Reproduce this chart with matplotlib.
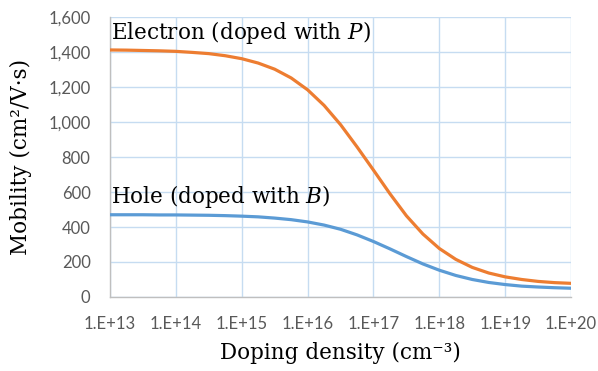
import numpy as np
import matplotlib.pyplot as plt
from matplotlib.ticker import FixedLocator, FixedFormatter

# doping density (log10 of cm^-3), quarter-decade steps
log_n = [13.0, 13.25, 13.5, 13.75, 14.0, 14.25, 14.5, 14.75, 15.0, 15.25,
         15.5, 15.75, 16.0, 16.25, 16.5, 16.75, 17.0, 17.25, 17.5, 17.75,
         18.0, 18.25, 18.5, 18.75, 19.0, 19.25, 19.5, 19.75, 20.0]

# mobility, cm^2/V.s
mu_electron = [1412, 1411, 1409, 1407, 1404, 1398, 1391, 1379, 1362, 1337,
               1302, 1252, 1184, 1095, 985, 858, 725, 590, 464, 360,
               277, 215, 169, 137, 115, 100, 89, 82, 78]
mu_hole = [470, 470, 470, 469, 469, 468, 467, 465, 462, 458,
           451, 442, 429, 411, 387, 355, 317, 275, 231, 189,
           153, 123, 100, 83, 71, 62, 57, 53, 50]

x_ticks = [1e13, 1e14, 1e15, 1e16, 1e17, 1e18, 1e19, 1e20]
x_ticklabels = ['1.E+13', '1.E+14', '1.E+15', '1.E+16', '1.E+17', '1.E+18', '1.E+19', '1.E+20']
y_ticks = [0, 200, 400, 600, 800, 1000, 1200, 1400, 1600]
y_ticklabels = ['0', '200', '400', '600', '800', '1,000', '1,200', '1,400', '1,600']

N = 10.0 ** np.array(log_n)

plt.rcParams['mathtext.fontset'] = 'dejavuserif'
fig = plt.figure(figsize=(5.98, 3.71), dpi=100)
ax = fig.add_axes([0.184, 0.1995, 0.771, 0.7545])

ax.plot(N, mu_electron, color='#ED7D31', lw=2.3, solid_capstyle='butt', zorder=3)
ax.plot(N, mu_hole, color='#5B9BD5', lw=2.3, solid_capstyle='butt', zorder=3)

ax.set_xscale('log')
ax.set_xlim(1e13, 1e20)
ax.set_ylim(0, 1600)
ax.xaxis.set_major_locator(FixedLocator(x_ticks))
ax.xaxis.set_major_formatter(FixedFormatter(x_ticklabels))
ax.xaxis.set_minor_locator(FixedLocator([]))
ax.yaxis.set_major_locator(FixedLocator(y_ticks))
ax.yaxis.set_major_formatter(FixedFormatter(y_ticklabels))

ax.grid(True, color='#c6dcf1', lw=1.0, zorder=0)
for s in ['top', 'right']:
    ax.spines[s].set_visible(False)
for s in ['left', 'bottom']:
    ax.spines[s].set_color('#bfbfbf')
    ax.spines[s].set_linewidth(1.0)
ax.tick_params(length=0, labelsize=12, labelcolor='#595959')
ax.tick_params(axis='x', pad=14)
ax.tick_params(axis='y', pad=14)
for lab in ax.get_xticklabels() + ax.get_yticklabels():
    lab.set_fontfamily('Lato')

serif = 'DejaVu Serif'
ax.set_xlabel('Doping density (cm⁻³)', fontsize=15.5, family=serif, labelpad=7)
ax.set_ylabel('Mobility (cm²/V·s)', fontsize=15.5, family=serif, labelpad=12)

ax.text(1.05e13, 1435, 'Electron (doped with $\\it{P}$)', fontsize=15.5, family=serif,
        va='bottom', ha='left')
ax.text(1.05e13, 495, 'Hole (doped with $\\it{B}$)', fontsize=15.5, family=serif,
        va='bottom', ha='left')

fig.savefig('out.png', dpi=100)
plt.close(fig)
